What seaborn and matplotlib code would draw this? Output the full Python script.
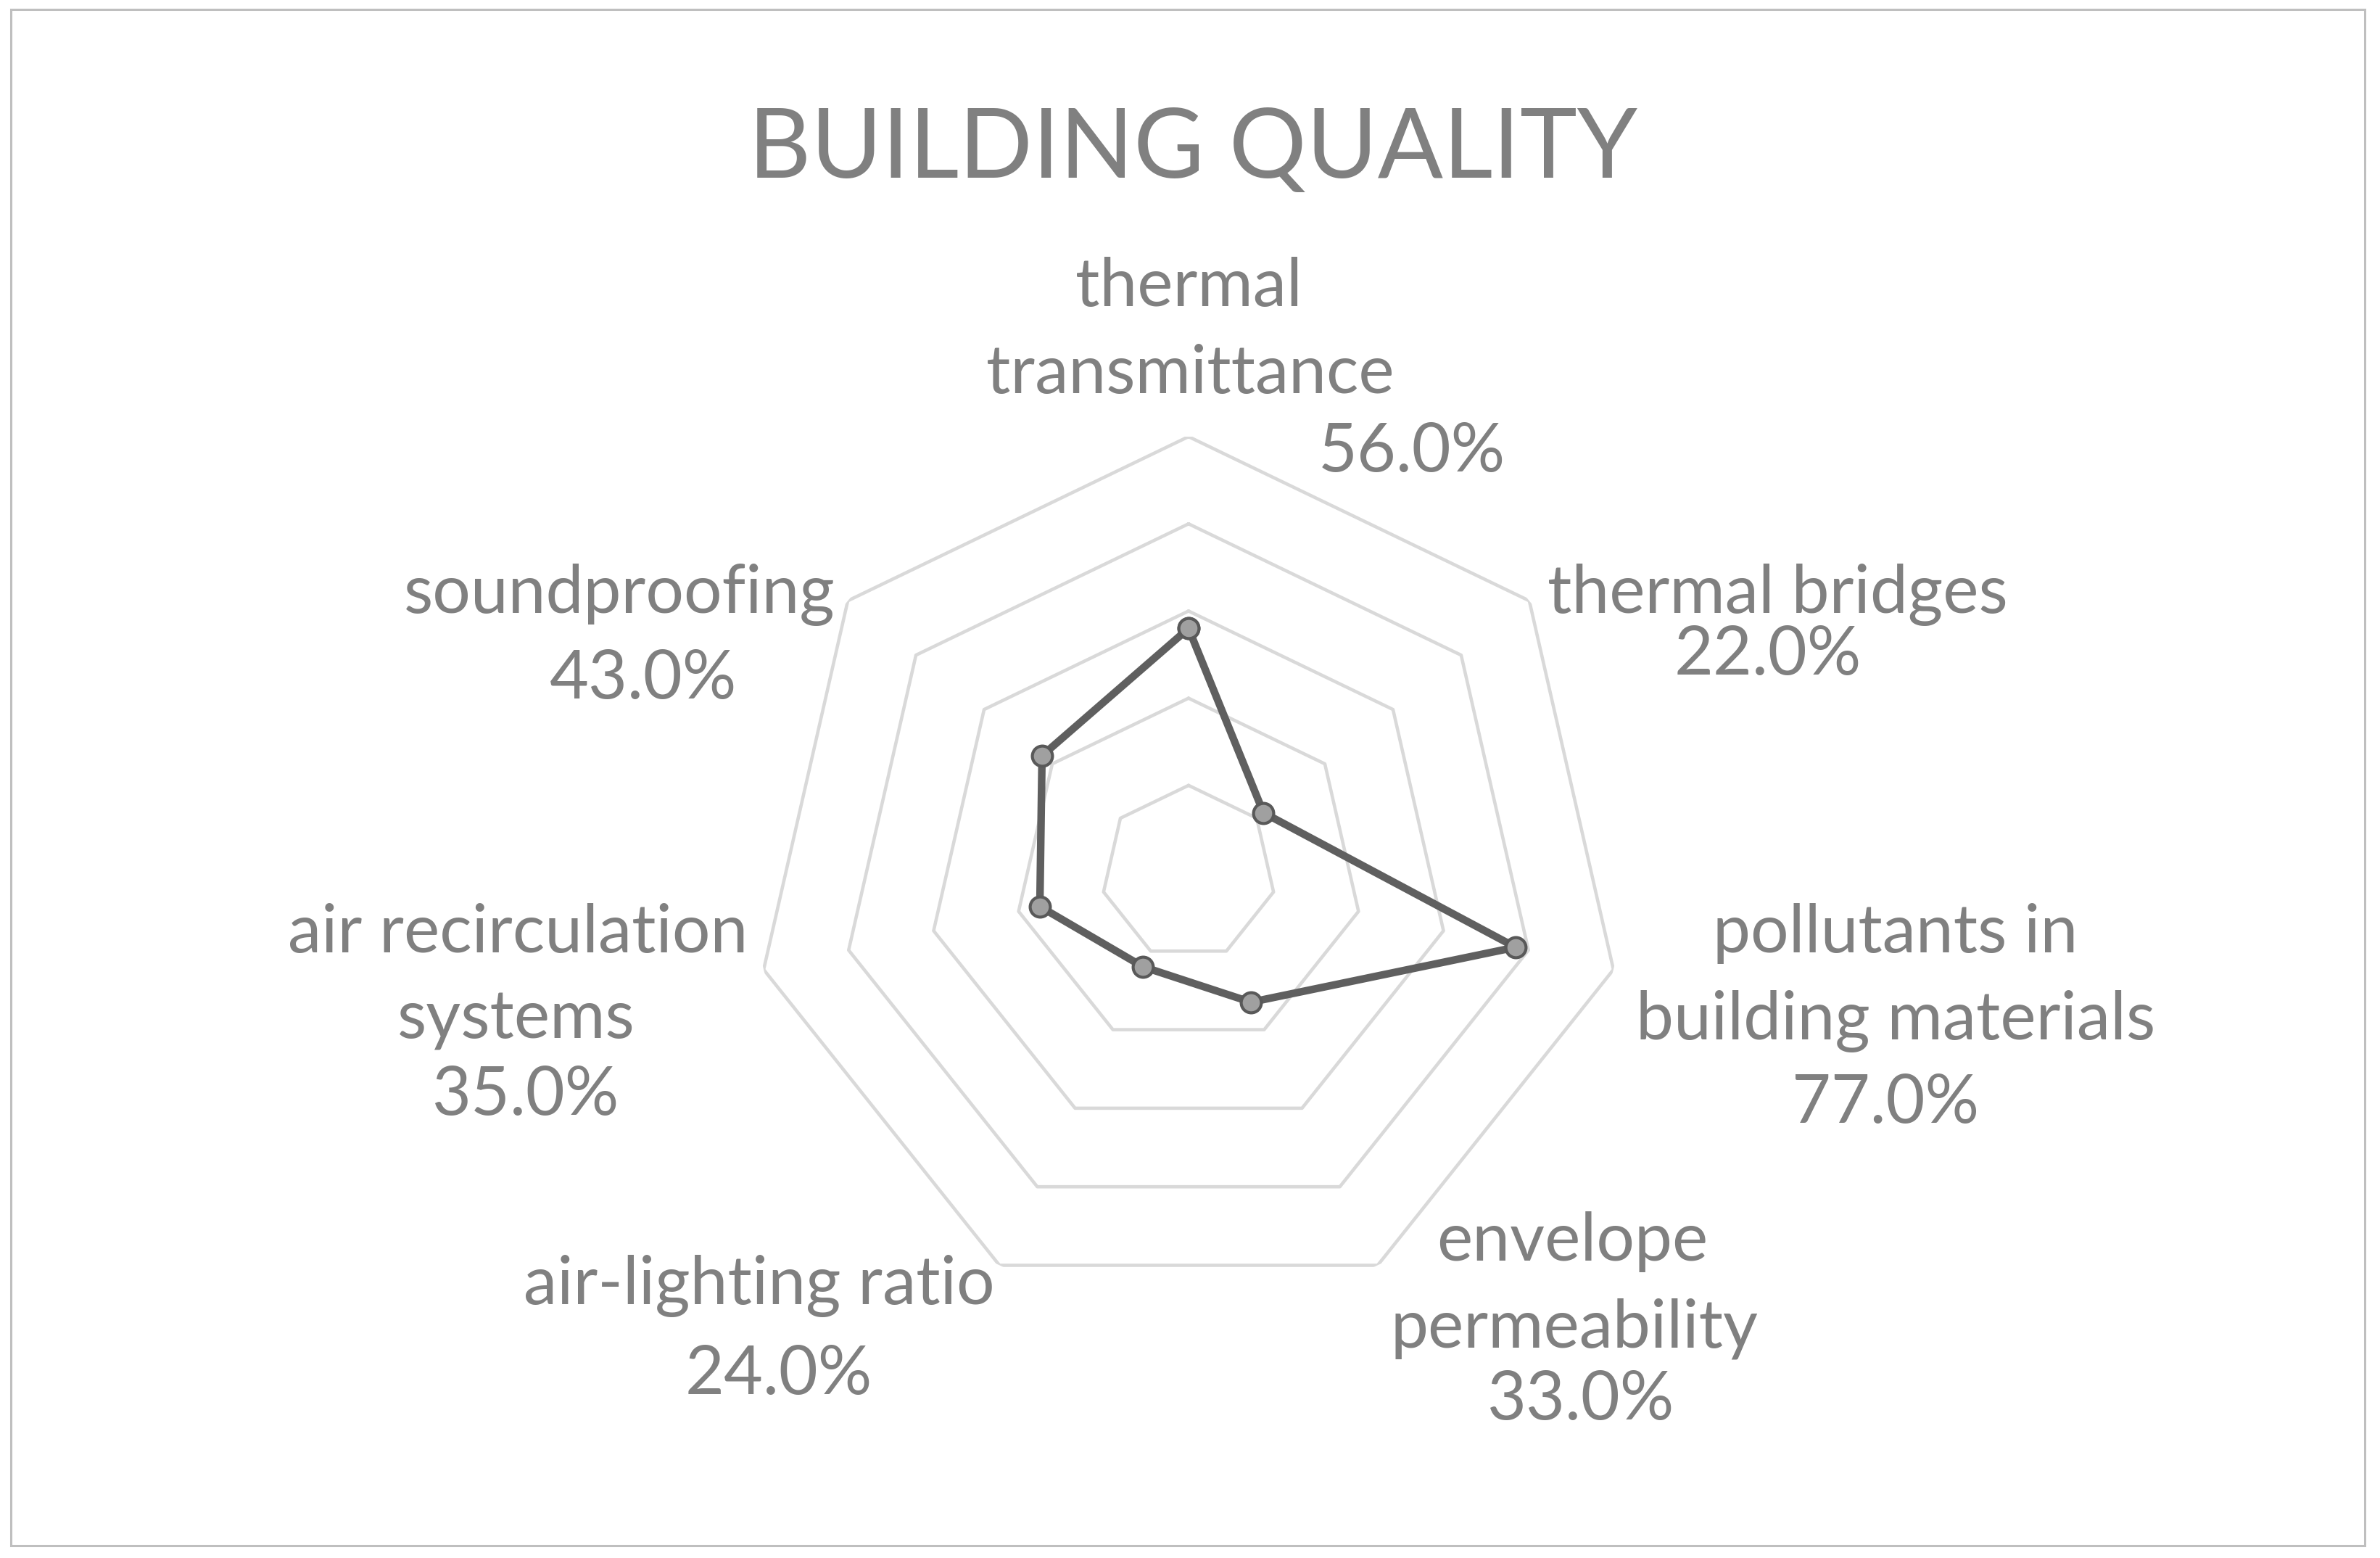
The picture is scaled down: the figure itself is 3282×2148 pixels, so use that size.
import numpy as np
import pandas as pd
import matplotlib
matplotlib.use("Agg")
import matplotlib.pyplot as plt
from matplotlib.patches import Rectangle
import seaborn as sns

# ---- data ----
categories = ["thermal transmittance", "thermal bridges", "pollutants in building materials",
              "envelope permeability", "air-lighting ratio", "air recirculation systems", "soundproofing"]
values = [56.0, 22.0, 77.0, 33.0, 24.0, 35.0, 43.0]
grid_levels = [20, 40, 60, 80, 100]
label_lines = [["thermal", "transmittance"], ["thermal bridges"], ["pollutants in", "building materials"],
               ["envelope", "permeability"], ["air-lighting ratio"], ["air recirculation", "systems"],
               ["soundproofing"]]
title = "BUILDING QUALITY"

sns.set_theme(style="white")
plt.rcParams['font.family'] = ['Lato', 'DejaVu Sans']

W, H = 3282, 2148
fig = plt.figure(figsize=(W / 100, H / 100), dpi=100)
fig.patch.set_facecolor("white")

# outer frame
fig.add_artist(Rectangle((15 / W, 1 - 2131 / H), (3261 - 15) / W, (2131 - 13) / H,
                         transform=fig.transFigure, fill=False, edgecolor="#bfbfbf", linewidth=2.2))

cx, cy, R = 1639, 1203, 601
ax = fig.add_axes([(cx - R) / W, (H - cy - R) / H, 2 * R / W, 2 * R / H], projection="polar")
ax.set_theta_zero_location("N")
ax.set_theta_direction(-1)
ax.set_ylim(0, 100)
ax.grid(False)
ax.set_xticks([])
ax.set_yticks([])
ax.spines["polar"].set_visible(False)
ax.set_facecolor("none")

n = len(categories)
theta = np.linspace(0, 2 * np.pi, n, endpoint=False)
theta_closed = np.append(theta, 2 * np.pi)

for lvl in grid_levels:
    ax.plot(theta_closed, [lvl] * (n + 1), color="#d9d9d9", linewidth=3.3, zorder=1)

df = pd.DataFrame({"theta": theta_closed, "value": values + [values[0]]})
sns.lineplot(data=df, x="theta", y="value", ax=ax, sort=False, estimator=None,
             color="#5f5f5f", linewidth=7.5, marker="o", markersize=20,
             markerfacecolor="#a0a0a0", markeredgecolor="#595959", markeredgewidth=3, zorder=3)
ax.set_xlabel("")
ax.set_ylabel("")
ax.set_ylim(0, 100)

# ---- text ----
txt_color = "#808080"
def ftext(x, y, s, size=67, **kw):
    fig.text(x / W, 1 - y / H, s, ha="center", va="baseline", fontsize=size, color=txt_color, **kw)

ftext(1645, 245, title, size=96)

# (x center, baseline) for each label line and percent
name_pos = [[(1639, 422), (1641, 542)], [(2451, 845)], [(2614, 1313), (2614, 1433)],
            [(2168, 1738), (2171, 1857)], [(1047, 1798)], [(714, 1313), (712, 1432)],
            [(854, 845)]]
pct_pos = [(1947, 650), (2438, 930), (2600, 1548), (2179, 1957), (1074, 1922), (724, 1537), (887, 963)]

for lines, poss, v, pp in zip(label_lines, name_pos, values, pct_pos):
    for s, (x, y) in zip(lines, poss):
        ftext(x, y, s)
    ftext(pp[0], pp[1], f"{v:.1f}%")

fig.savefig("out.png", dpi=100, facecolor="white")
